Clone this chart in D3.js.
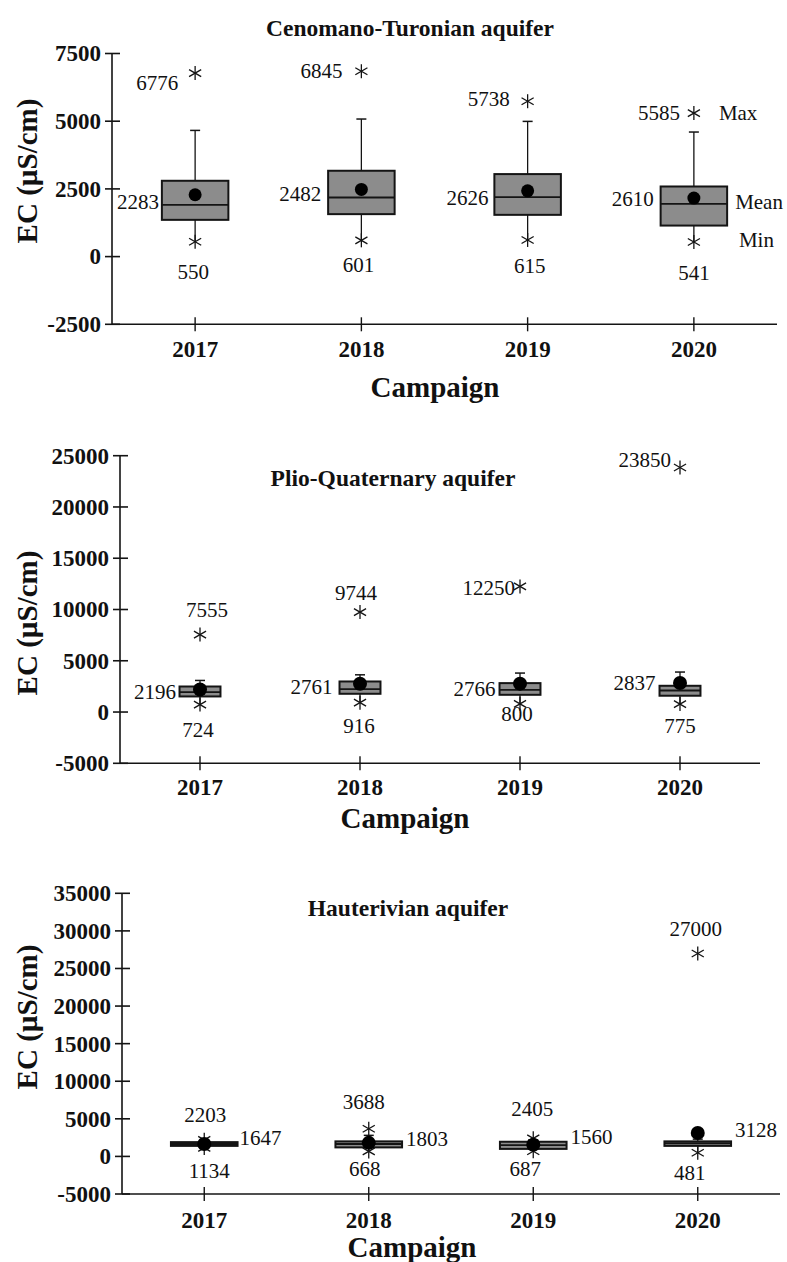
<!DOCTYPE html>
<html>
<head>
<meta charset="utf-8">
<script src="https://cdn.jsdelivr.net/npm/d3@7"></script>
<style>
  html, body { margin: 0; padding: 0; background: #ffffff; }
  svg { display: block; }
  text { font-family: "Liberation Serif", "Times New Roman", serif; fill: #111; }
</style>
</head>
<body>
<svg id="chart" width="787" height="1262"></svg>
<script>
// ---------------- DATA ----------------
const categories = ["2017", "2018", "2019", "2020"];

// Panel 1 : Cenomano-Turonian aquifer
const ctTitle = "Cenomano-Turonian aquifer";
const ctTicks = [-2500, 0, 2500, 5000, 7500];
const ctQ1 = [1357, 1568, 1542, 1146];
const ctMedian = [1912, 2182, 2197, 1949];
const ctQ3 = [2800, 3170, 3047, 2589];
const ctWhiskerHigh = [4660, 5080, 4993, 4600];
const ctMeanMark = [2283, 2482, 2430, 2160];
const ctMaxMark = [6776, 6845, 5738, 5300];
const ctMinMark = [550, 601, 615, 541];
const ctMaxLabel = ["6776", "6845", "5738", "5585"];
const ctMeanLabel = ["2283", "2482", "2626", "2610"];
const ctMinLabel = ["550", "601", "615", "541"];

// Panel 2 : Plio-Quaternary aquifer
const pqTitle = "Plio-Quaternary aquifer";
const pqTicks = [-5000, 0, 5000, 10000, 15000, 20000, 25000];
const pqQ1 = [1520, 1780, 1680, 1590];
const pqMedian = [1950, 2240, 2170, 2100];
const pqQ3 = [2490, 2980, 2820, 2560];
const pqWhiskerHigh = [3080, 3630, 3800, 3900];
const pqMeanMark = [2196, 2761, 2766, 2837];
const pqMaxMark = [7555, 9744, 12250, 23850];
const pqMinMark = [724, 916, 800, 775];
const pqMaxLabel = ["7555", "9744", "12250", "23850"];
const pqMeanLabel = ["2196", "2761", "2766", "2837"];
const pqMinLabel = ["724", "916", "800", "775"];

// Panel 3 : Hauterivian aquifer
const haTitle = "Hauterivian aquifer";
const haTicks = [-5000, 0, 5000, 10000, 15000, 20000, 25000, 30000, 35000];
const haQ1 = [1400, 1200, 1000, 1400];
const haMedian = [1650, 1650, 1500, 1750];
const haQ3 = [1900, 2000, 1950, 2000];
const haWhiskerHigh = [2100, 2800, 2200, 2300];
const haMeanMark = [1647, 1803, 1560, 3128];
const haMaxMark = [2203, 3688, 2405, 27000];
const haMinMark = [1134, 668, 687, 481];
const haMaxLabel = ["2203", "3688", "2405", "27000"];
const haMeanLabel = ["1647", "1803", "1560", "3128"];
const haMinLabel = ["1134", "668", "687", "481"];

const yTitle = "EC (µS/cm)";
const xTitle = "Campaign";
const legendMax = "Max", legendMean = "Mean", legendMin = "Min";

// ---------------- LAYOUT (positions / styles) ----------------
const panels = [
  {
    title: ctTitle, ticks: ctTicks, q1: ctQ1, med: ctMedian, q3: ctQ3, wh: ctWhiskerHigh,
    mean: ctMeanMark, max: ctMaxMark, min: ctMinMark,
    maxLab: ctMaxLabel, meanLab: ctMeanLabel, minLab: ctMinLabel,
    xr: [112, 777], yr: [324.3, 53.5], boxFrac: 0.40, dotR: 6.5,
    titleXY: [410, 28], campXY: [435, 397], yearY: 357, yTitleY: 171,
    maxPos: [["end", -17, 10], ["end", -19, 0], ["end", -18, -2], ["end", -14, 0]],
    meanSide: "left", meanGap: [3, 7, 6, 7], meanDy: [7.7, 4.7, 7.5, 0.7],
    minPos: [[-2, 30], [-3, 25], [2, 26], [0, 31]],
    legend: true
  },
  {
    title: pqTitle, ticks: pqTicks, q1: pqQ1, med: pqMedian, q3: pqQ3, wh: pqWhiskerHigh,
    mean: pqMeanMark, max: pqMaxMark, min: pqMinMark,
    maxLab: pqMaxLabel, meanLab: pqMeanLabel, minLab: pqMinLabel,
    xr: [120, 760], yr: [763.3, 455.7], boxFrac: 0.256, dotR: 7,
    titleXY: [393, 478], campXY: [405, 828], yearY: 795, yTitleY: 623,
    maxPos: [["middle", 7, -25], ["middle", -4, -19], ["end", -5, 1.5], ["end", -9, -7]],
    meanSide: "left", meanGap: [3.5, 7, 4, 4], meanDy: [2, 3, 5, 0],
    minPos: [[-2, 25], [-1, 23], [-3, 10], [0, 22]],
    legend: false
  },
  {
    title: haTitle, ticks: haTicks, q1: haQ1, med: haMedian, q3: haQ3, wh: haWhiskerHigh,
    mean: haMeanMark, max: haMaxMark, min: haMinMark,
    maxLab: haMaxLabel, meanLab: haMeanLabel, minLab: haMinLabel,
    xr: [122, 780], yr: [1194, 893.3], boxFrac: 0.405, dotR: 7,
    titleXY: [408, 908], campXY: [412, 1257], yearY: 1228, yTitleY: 1017,
    maxPos: [["middle", 1, -25], ["middle", -5, -27], ["middle", -1, -29], ["middle", -2, -24]],
    meanSide: "right", meanGap: [2, 4, 4, 4], meanDy: [-6, -4, -8, -3],
    minPos: [[5, 23], [-4, 18], [-8, 18], [-8, 20]],
    legend: false
  }
];

const svg = d3.select("#chart");
const INK = "#141414";
const BOX_FILL = "#8c8c8c";
const LABEL_SIZE = 21;

function asterisk(g, x, y, r) {
  const a = g.append("g").attr("transform", `translate(${x},${y})`);
  for (let k = 0; k < 3; k++) {
    const ang = Math.PI / 2 + k * Math.PI / 3;
    a.append("line")
      .attr("x1", r * Math.cos(ang)).attr("y1", -r * Math.sin(ang))
      .attr("x2", -r * Math.cos(ang)).attr("y2", r * Math.sin(ang))
      .attr("stroke", INK).attr("stroke-width", 1.3);
  }
}

panels.forEach(p => {
  const g = svg.append("g");
  const x = d3.scaleBand().domain(categories).range(p.xr).paddingInner(0).paddingOuter(0);
  const y = d3.scaleLinear().domain([p.ticks[0], p.ticks[p.ticks.length - 1]]).range(p.yr);
  const cx = c => x(c) + x.bandwidth() / 2;
  const bw = x.bandwidth() * p.boxFrac;

  // Y axis
  const yAx = g.append("g").attr("transform", `translate(${p.xr[0]},0)`)
    .call(d3.axisLeft(y).tickValues(p.ticks).tickSize(0).tickPadding(11).tickFormat(d => String(d)));
  yAx.select(".domain").remove();
  yAx.selectAll(".tick text").attr("font-size", 23).attr("font-weight", "bold")
    .attr("font-family", '"Liberation Serif", serif').attr("fill", INK);
  g.append("line").attr("x1", p.xr[0]).attr("x2", p.xr[0])
    .attr("y1", y(p.ticks[p.ticks.length - 1])).attr("y2", y(p.ticks[0]))
    .attr("stroke", INK).attr("stroke-width", 1.6);
  g.selectAll(".ytk").data(p.ticks).enter().append("line")
    .attr("x1", p.xr[0] - 7).attr("x2", p.xr[0] + 8)
    .attr("y1", d => y(d)).attr("y2", d => y(d))
    .attr("stroke", INK).attr("stroke-width", 1.6);

  // X axis
  const y0 = y(p.ticks[0]);
  g.append("line").attr("x1", p.xr[0]).attr("x2", p.xr[1]).attr("y1", y0).attr("y2", y0)
    .attr("stroke", INK).attr("stroke-width", 1.6);
  g.selectAll(".xtk").data(categories).enter().append("line")
    .attr("x1", d => cx(d)).attr("x2", d => cx(d))
    .attr("y1", y0 - 7).attr("y2", y0 + 7)
    .attr("stroke", INK).attr("stroke-width", 1.4);
  g.selectAll(".xlab").data(categories).enter().append("text")
    .attr("x", d => cx(d)).attr("y", p.yearY)
    .attr("text-anchor", "middle").attr("font-size", 23).attr("font-weight", "bold")
    .text(d => d);

  // Titles
  g.append("text").attr("x", p.titleXY[0]).attr("y", p.titleXY[1])
    .attr("text-anchor", "middle").attr("dominant-baseline", "central")
    .attr("font-size", 23.5).attr("font-weight", "bold").text(p.title);
  g.append("text").attr("x", p.campXY[0]).attr("y", p.campXY[1])
    .attr("text-anchor", "middle").attr("font-size", 29).attr("font-weight", "bold").text(xTitle);
  g.append("text").attr("transform", `translate(37,${p.yTitleY}) rotate(-90)`)
    .attr("text-anchor", "middle").attr("font-size", 29).attr("font-weight", "bold").text(yTitle);

  // Boxes
  categories.forEach((c, i) => {
    const xc = cx(c);
    // whiskers
    g.append("line").attr("x1", xc).attr("x2", xc)
      .attr("y1", y(p.q3[i])).attr("y2", y(p.wh[i])).attr("stroke", INK).attr("stroke-width", 1.3);
    g.append("line").attr("x1", xc - 5).attr("x2", xc + 5)
      .attr("y1", y(p.wh[i])).attr("y2", y(p.wh[i])).attr("stroke", INK).attr("stroke-width", 1.5);
    g.append("line").attr("x1", xc).attr("x2", xc)
      .attr("y1", y(p.q1[i])).attr("y2", y(p.min[i])).attr("stroke", INK).attr("stroke-width", 1.3);
    // box
    g.append("rect").attr("x", xc - bw / 2).attr("width", bw)
      .attr("y", y(p.q3[i])).attr("height", y(p.q1[i]) - y(p.q3[i]))
      .attr("fill", BOX_FILL).attr("stroke", INK).attr("stroke-width", 2);
    g.append("line").attr("x1", xc - bw / 2).attr("x2", xc + bw / 2)
      .attr("y1", y(p.med[i])).attr("y2", y(p.med[i])).attr("stroke", INK).attr("stroke-width", 1.8);
    // min / max asterisks
    asterisk(g, xc, y(p.max[i]), 7);
    asterisk(g, xc, y(p.min[i]), 7);
    // mean dot
    g.append("circle").attr("cx", xc).attr("cy", y(p.mean[i])).attr("r", p.dotR).attr("fill", "#000");

    // labels
    const mp = p.maxPos[i];
    g.append("text").attr("x", xc + mp[1]).attr("y", y(p.max[i]) + mp[2])
      .attr("text-anchor", mp[0]).attr("dominant-baseline", "central")
      .attr("font-size", LABEL_SIZE).text(p.maxLab[i]);
    const mx = p.meanSide === "left" ? xc - bw / 2 - p.meanGap[i] : xc + bw / 2 + p.meanGap[i];
    g.append("text").attr("x", mx).attr("y", y(p.mean[i]) + p.meanDy[i])
      .attr("text-anchor", p.meanSide === "left" ? "end" : "start").attr("dominant-baseline", "central")
      .attr("font-size", LABEL_SIZE).text(p.meanLab[i]);
    const np = p.minPos[i];
    g.append("text").attr("x", xc + np[0]).attr("y", y(p.min[i]) + np[1])
      .attr("text-anchor", "middle").attr("dominant-baseline", "central")
      .attr("font-size", LABEL_SIZE).text(p.minLab[i]);
  });

  if (p.legend) {
    const c = categories[3], xc = cx(c);
    g.append("text").attr("x", xc + 25).attr("y", y(p.max[3]))
      .attr("dominant-baseline", "central").attr("font-size", LABEL_SIZE).text(legendMax);
    g.append("text").attr("x", xc + bw / 2 + 8).attr("y", y(p.mean[3]) + 4)
      .attr("dominant-baseline", "central").attr("font-size", LABEL_SIZE).text(legendMean);
    g.append("text").attr("x", xc + 45).attr("y", y(p.min[3]) - 2)
      .attr("dominant-baseline", "central").attr("font-size", LABEL_SIZE).text(legendMin);
  }
});
</script>
</body>
</html>
